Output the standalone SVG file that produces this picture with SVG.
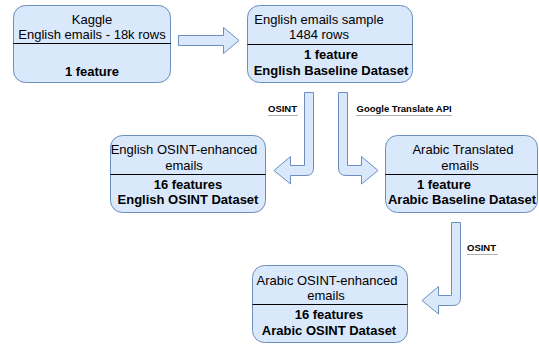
<svg xmlns="http://www.w3.org/2000/svg" width="539" height="346" viewBox="0 0 539 346">
<style>
.box{fill:#dae8fc;stroke:#6c8ebf;stroke-width:1}
.div{stroke:#000;stroke-width:1}
.t{font-family:"Liberation Sans",Arial,sans-serif;font-size:13px;fill:#000;text-anchor:middle}
.b{font-weight:bold}
.arrow{fill:#dae8fc;stroke:#6c8ebf;stroke-width:1;stroke-linejoin:miter}
.lbl{font-family:"Liberation Sans",Arial,sans-serif;font-size:9.5px;font-weight:bold;fill:#000}
.ul{stroke:#b0b0b0;stroke-width:1}
</style>
<rect width="539" height="346" fill="#fff"/>
<g id="connectors">
<path class="arrow" d="M178.5,35.5 L223.5,35.5 L223.5,27.5 L239,40.5 L223.5,53.5 L223.5,45.5 L178.5,45.5 Z"/>
<path class="arrow" d="M304.5,92.5 L313.5,92.5 L313.5,168 Q313.5,175.5 306,175.5 L290.5,175.5 L290.5,184 L274,170.5 L290.5,156.5 L290.5,165.5 L304.5,165.5 Z"/>
<path class="arrow" d="M338.5,92.5 L347.5,92.5 L347.5,165.5 L361.5,165.5 L361.5,156.5 L378,170.5 L361.5,184 L361.5,175.5 L346,175.5 Q338.5,175.5 338.5,168 Z"/>
<path class="arrow" d="M451.5,222.5 L460.5,222.5 L460.5,298 Q460.5,305.5 453,305.5 L438.5,305.5 L438.5,314 L422,300.5 L438.5,286.5 L438.5,295.5 L451.5,295.5 Z"/>
<g id="label-osint-1">
<text class="lbl" x="268" y="111.5">OSINT</text>
<line class="ul" x1="268" y1="115.5" x2="298" y2="115.5"/>
</g>
<g id="label-google">
<text class="lbl" x="356.5" y="112">Google Translate API</text>
<line class="ul" x1="356" y1="115.5" x2="452" y2="115.5"/>
</g>
<g id="label-osint-2">
<text class="lbl" x="467" y="251">OSINT</text>
<line class="ul" x1="467" y1="254.5" x2="498" y2="254.5"/>
</g>
</g>
<g id="kaggle">
<rect class="box" x="13.5" y="5.5" width="157" height="77" rx="12"/>
<line class="div" x1="13.5" y1="43.5" x2="170.5" y2="43.5"/>
<text class="t" x="92" y="24">Kaggle</text>
<text class="t" x="92" y="39">English emails - 18k rows</text>
<text class="t b" x="92" y="76">1 feature</text>
</g>
<g id="english-sample">
<rect class="box" x="247.5" y="5.5" width="165" height="77" rx="12"/>
<line class="div" x1="247.5" y1="44.5" x2="412.5" y2="44.5"/>
<text class="t" x="319" y="23.5">English emails sample</text>
<text class="t" x="319" y="39">1484 rows</text>
<text class="t b" x="331" y="59">1 feature</text>
<text class="t b" x="331" y="74.5">English Baseline Dataset</text>
</g>
<g id="english-osint">
<rect class="box" x="110.5" y="135.5" width="155" height="77" rx="12"/>
<line class="div" x1="110.5" y1="174.5" x2="265.5" y2="174.5"/>
<text class="t" x="184" y="154">English OSINT-enhanced</text>
<text class="t" x="184" y="169.5">emails</text>
<text class="t b" x="188" y="188.5">16 features</text>
<text class="t b" x="188" y="204">English OSINT Dataset</text>
</g>
<g id="arabic-translated">
<rect class="box" x="385.5" y="135.5" width="152" height="77" rx="12"/>
<line class="div" x1="385.5" y1="174.5" x2="537.5" y2="174.5"/>
<text class="t" x="463" y="154">Arabic Translated</text>
<text class="t" x="460" y="169.5">emails</text>
<text class="t b" x="444" y="188.5">1 feature</text>
<text class="t b" x="462" y="204">Arabic Baseline Dataset</text>
</g>
<g id="arabic-osint">
<rect class="box" x="252.5" y="265.5" width="155" height="77" rx="12"/>
<line class="div" x1="252.5" y1="304.5" x2="407.5" y2="304.5"/>
<text class="t" x="327" y="284.5">Arabic OSINT-enhanced</text>
<text class="t" x="326" y="300">emails</text>
<text class="t b" x="329" y="318.5">16 features</text>
<text class="t b" x="329" y="334.5">Arabic OSINT Dataset</text>
</g>
</svg>
